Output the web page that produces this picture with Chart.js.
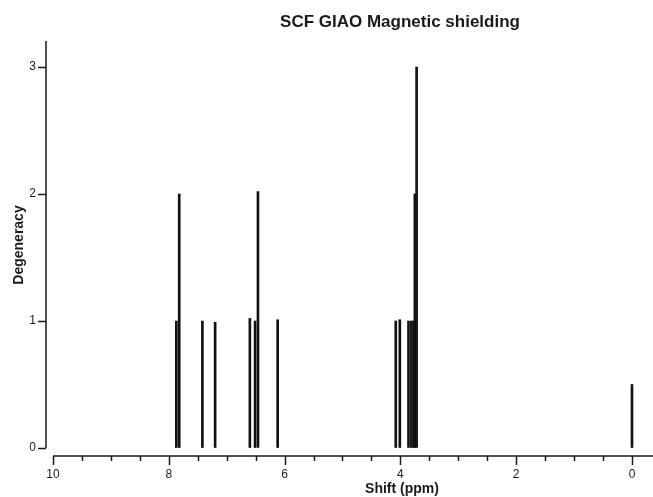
<!DOCTYPE html>
<html>
<head>
<meta charset="utf-8">
<script src="https://cdn.jsdelivr.net/npm/chart.js@4/dist/chart.umd.min.js"></script>
<style>
  html, body { margin: 0; padding: 0; background: #fff; }
  #wrap { width: 653px; height: 497px; }
</style>
</head>
<body>
<div id="wrap"><canvas id="c" width="653" height="497"></canvas></div>
<script>
// Computed 1H shifts (ppm) and their degeneracy
const shifts     = [7.87, 7.82, 7.42, 7.20, 6.60, 6.51, 6.46, 6.12, 4.08, 4.01, 3.86, 3.81, 3.77, 3.75, 3.72, 0.00];
const degeneracy = [1.00, 2.00, 1.00, 0.99, 1.02, 1.00, 2.02, 1.01, 1.00, 1.01, 1.00, 1.00, 1.00, 2.00, 3.00, 0.50];

// Axis ticks
const yTickValues  = [0, 1, 2, 3];
const xMajorTicks  = [10, 8, 6, 4, 2, 0];
const xMinorStep   = 0.5;
const xAxisStart   = 10;

const chartTitle = 'SCF GIAO Magnetic shielding';
const xTitle = 'Shift (ppm)';
const yTitle = 'Degeneracy';

const FONT = '"Liberation Sans", Arial, Helvetica, sans-serif';
const INK = '#1a1a1a';

// Axis lines, tick marks and titles drawn from the scales
const axisPainter = {
  id: 'axisPainter',
  afterDraw(chart) {
    const { ctx, chartArea, scales: { x, y } } = chart;
    ctx.save();
    ctx.strokeStyle = INK;
    ctx.lineWidth = 1.5;
    ctx.beginPath();
    // vertical axis, from zero up to the top
    const ax = chartArea.left;
    ctx.moveTo(ax, y.getPixelForValue(0));
    ctx.lineTo(ax, chartArea.top);
    y.ticks.forEach(t => {
      const py = Math.round(y.getPixelForValue(t.value)) + 0.5;
      ctx.moveTo(ax - 8, py);
      ctx.lineTo(ax, py);
    });
    // horizontal axis, from the first major tick to the right edge
    const by = chartArea.bottom;
    const x0 = x.getPixelForValue(xAxisStart);
    ctx.moveTo(x0, by);
    ctx.lineTo(chartArea.right, by);
    x.ticks.forEach(t => {
      const px = Math.round(x.getPixelForValue(t.value)) + 0.5;
      const major = xMajorTicks.includes(t.value);
      ctx.moveTo(px, by);
      ctx.lineTo(px, by + (major ? 9 : 5));
    });
    ctx.stroke();

    ctx.fillStyle = INK;
    ctx.textAlign = 'center';
    ctx.textBaseline = 'middle';
    ctx.font = 'bold 17px ' + FONT;
    ctx.fillText(chartTitle, 400, 22);
    ctx.font = 'bold 14px ' + FONT;
    ctx.fillText(xTitle, 402, 489);
    ctx.translate(19, 245);
    ctx.rotate(-Math.PI / 2);
    ctx.fillText(yTitle, 0, 0);
    ctx.restore();
  }
};

new Chart(document.getElementById('c'), {
  type: 'bar',
  data: {
    datasets: [{
      data: shifts.map((s, i) => ({ x: s, y: degeneracy[i] })),
      backgroundColor: '#111',
      borderWidth: 0,
      barThickness: 2
    }]
  },
  options: {
    responsive: false,
    animation: false,
    devicePixelRatio: 1,
    layout: { padding: { top: 41, right: 0, left: 0, bottom: 0 } },
    plugins: { legend: { display: false }, title: { display: false }, tooltip: { enabled: false } },
    scales: {
      x: {
        type: 'linear',
        reverse: true,
        min: -0.363,
        max: 10.121,
        offset: false,
        afterFit: s => { s.height = 41; },
        afterBuildTicks: s => {
          const t = [];
          for (let v = xAxisStart; v >= 0; v -= xMinorStep) t.push({ value: v });
          s.ticks = t;
        },
        border: { display: false },
        grid: { display: true, drawOnChartArea: false, drawTicks: true, tickLength: 8, color: 'rgba(0,0,0,0)' },
        ticks: {
          autoSkip: false,
          maxRotation: 0,
          padding: 3,
          color: INK,
          font: { family: FONT, size: 12 },
          callback: v => xMajorTicks.includes(v) ? String(v) : ''
        }
      },
      y: {
        min: -0.063,
        max: 3.205,
        afterFit: s => { s.width = 46; },
        afterBuildTicks: s => { s.ticks = yTickValues.map(v => ({ value: v })); },
        border: { display: false },
        grid: { display: true, drawOnChartArea: false, drawTicks: true, tickLength: 8, color: 'rgba(0,0,0,0)' },
        ticks: {
          padding: 2,
          color: INK,
          font: { family: FONT, size: 12 }
        }
      }
    }
  },
  plugins: [axisPainter]
});
</script>
</body>
</html>
